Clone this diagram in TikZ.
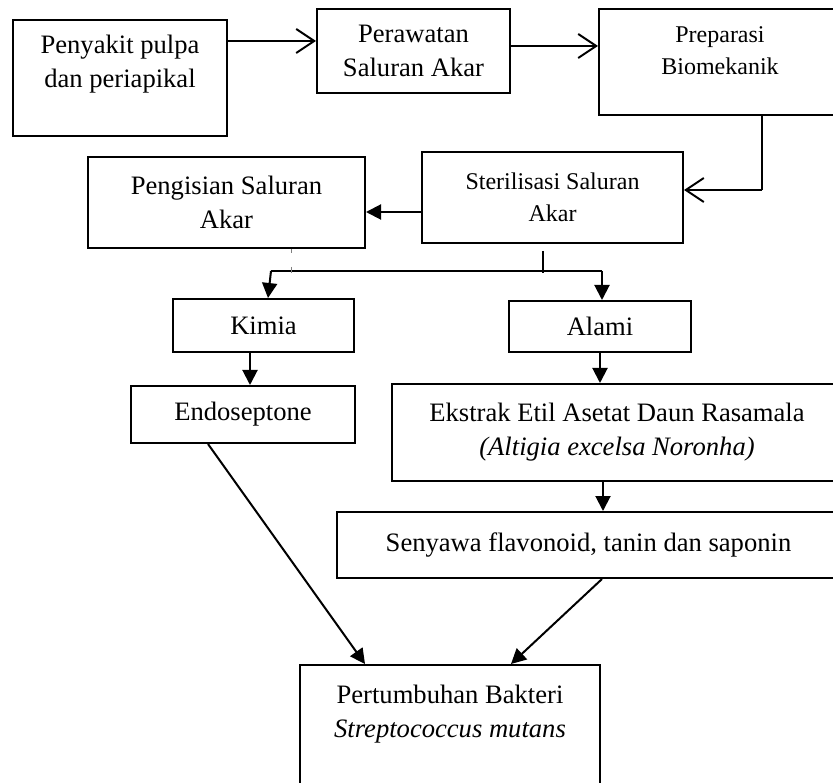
\documentclass[tikz,border=0pt]{standalone}
\usepackage{fontspec}
\setmainfont{Liberation Serif}
\usepackage{tikz}
\usetikzlibrary{calc,positioning,arrows.meta}
\tikzset{bx/.style={draw,line width=2pt,rectangle,inner sep=0pt,align=center,text=black,font=\fontsize{26.6}{34}\selectfont},sm/.style={font=\fontsize{24}{32}\selectfont},opn/.style={line width=2pt,-{Straight Barb[length=18pt,width=24pt]}},fil/.style={line width=2pt,-{Triangle[length=15pt,width=15pt]}},thn/.style={line width=1.1pt},gst/.style={line width=0.8pt,gray,dash pattern=on 4pt off 14pt on 6pt off 2pt}}

\begin{document}
\begin{tikzpicture}[x=1pt,y=1pt]
		\useasboundingbox (0,0) rectangle (833,-783);
		\clip (0,0) rectangle (833,-783);
		\node[bx,minimum width=214pt,minimum height=116pt] (pp) at (120,-78) {Penyakit pulpa\\dan periapikal\\~};
		\node[bx,minimum width=193pt,minimum height=84pt] (psa) at (413.5,-51) {Perawatan\\Saluran Akar};
		\node[bx,sm,minimum width=242pt,minimum height=106pt] (pb) at (720,-62) {Preparasi\\Biomekanik\\[-10pt]~};
		\node[bx,sm,minimum width=261pt,minimum height=91pt] (ssa) at (552.5,-197.5) {Sterilisasi Saluran\\Akar};
		\node[bx,minimum width=277pt,minimum height=91pt] (pgs) at (226.5,-202.5) {Pengisian Saluran\\Akar};
		\node[bx,minimum width=181pt,minimum height=53pt] (kim) at (263.5,-325.5) {Kimia};
		\node[bx,minimum width=182pt,minimum height=51pt] (alm) at (600,-326.5) {Alami};
		\node[bx,minimum width=224pt,minimum height=57pt] (endo) at (243,-414.5) {Endoseptone};
		\node[bx,minimum width=450pt,minimum height=97pt] (eks) at (617,-432.5) {Ekstrak Etil Asetat Daun Rasamala\\\textit{(Altigia excelsa Noronha)}};
		\node[bx,minimum width=503pt,minimum height=66pt] (sny) at (588.5,-545) {Senyawa flavonoid, tanin dan saponin};
		\node[bx,minimum width=300pt,minimum height=161pt] (ptb) at (450,-745.5) {Pertumbuhan Bakteri\\\textit{Streptococcus mutans}\\~\\~};
		\draw[opn] ([yshift=37pt]pp.east) -- ([yshift=10pt]psa.west);
		\draw[opn] ([yshift=5pt]psa.east) -- ([yshift=16pt]pb.west);
		\coordinate (tr) at ($(pb.south)+(42,-74)$);
		\draw[thn] ([xshift=42pt]pb.south) -- (tr);
		\draw[opn] (tr) -- (ssa.east |- tr);
		\draw[fil] ([yshift=-14.5pt]ssa.west) -- ([yshift=-9.5pt]pgs.east);
		\coordinate (sp) at ($(ssa.south)+(-9.5,-29)$);
		\coordinate (bl) at ($(kim.north)+(7.5,27)$);
		\coordinate (br) at ($(alm.north)+(2,29)$);
		\draw[thn] ([xshift=-9.5pt,yshift=-7pt]ssa.south) -- (sp);
		\draw[thn] (bl) -- (br);
		\draw[gst] ($(pgs.south)+(64.5,0)$) -- ($(pgs.south)+(64.5,-24)$);
		\draw[fil] (bl) -- ([xshift=4.5pt]kim.north);
		\draw[fil] (br) -- (br |- alm.north);
		\draw[fil] ($(kim.south)+(-13.5,0)$) -- ($(endo.north)+(7,0)$);
		\draw[fil] (alm.south) -- (alm.south |- eks.north);
		\draw[fil] ($(eks.south)+(-14,0)$) -- ($(sny.north)+(14.5,0)$);
		\draw[fil] ($(endo.south)+(-35,0)$) -- ($(ptb.north)+(-85,0)$);
		\draw[fil] ($(sny.south)+(13.5,0)$) -- ($(ptb.north)+(61,0)$);
	\end{tikzpicture}
\end{document}
